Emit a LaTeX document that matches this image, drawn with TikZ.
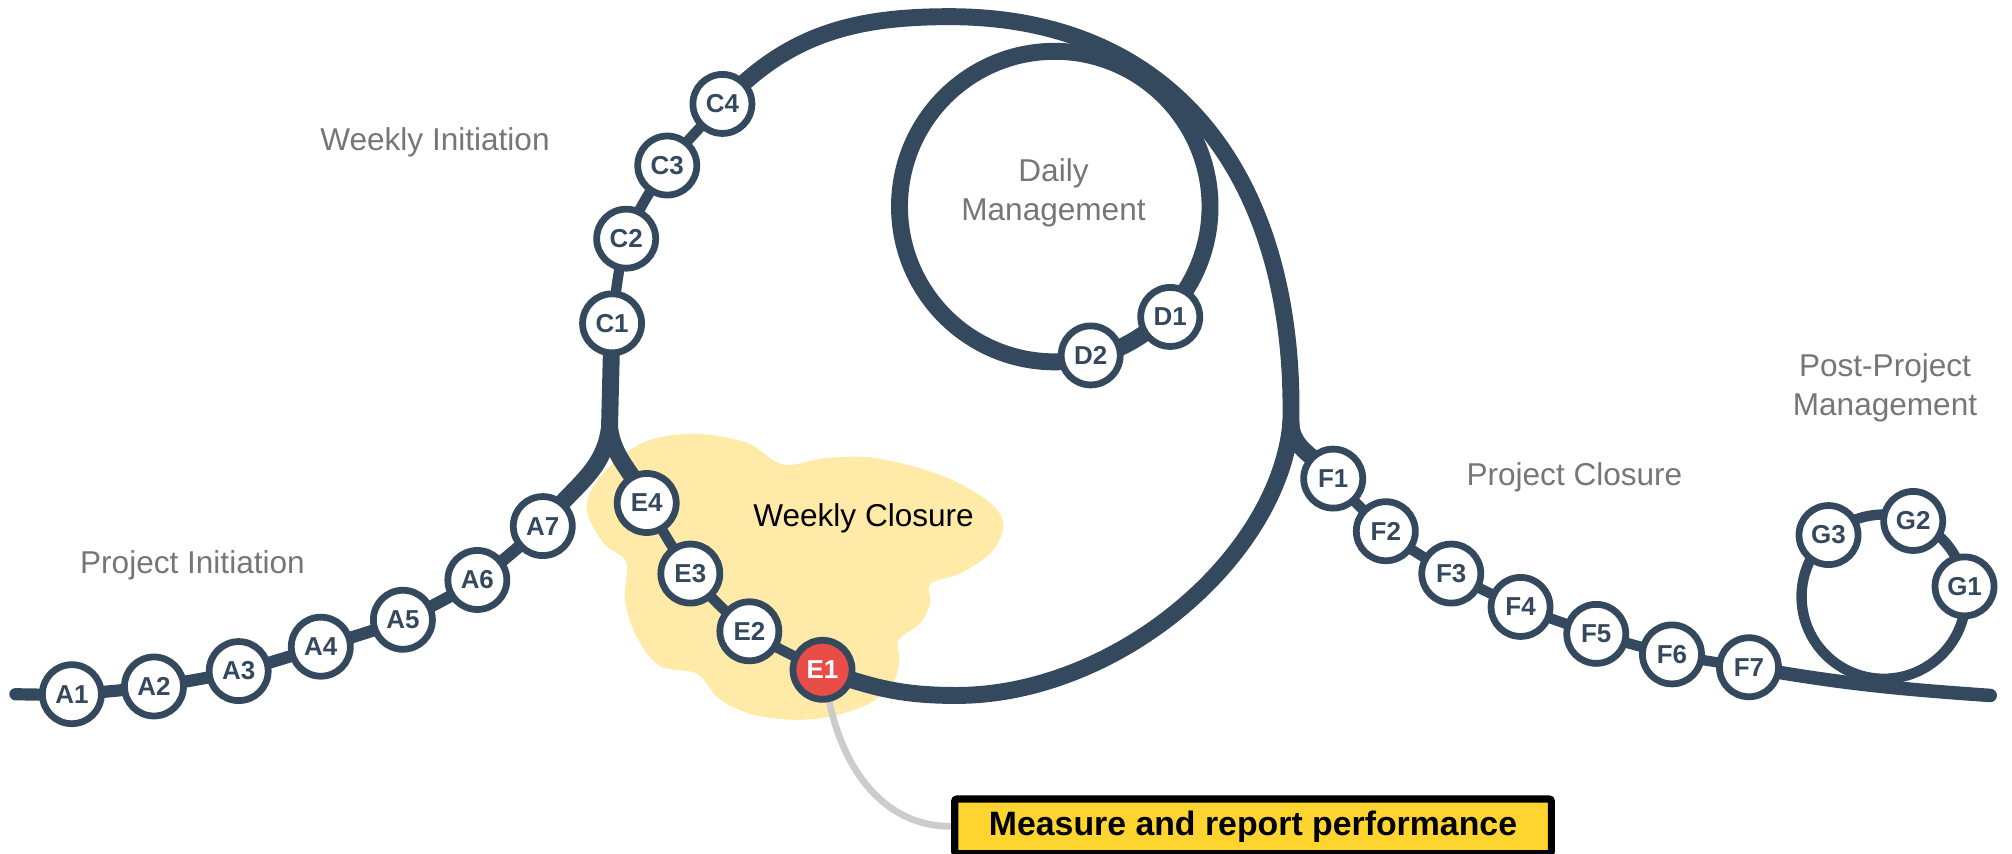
\documentclass[tikz,border=0pt]{standalone}
\usepackage{fontspec}
\setmainfont{Liberation Sans}
\usetikzlibrary{backgrounds}

\definecolor{navy}{RGB}{52,73,94}
\definecolor{alert}{RGB}{232,77,72}
\definecolor{cloudfill}{RGB}{255,235,167}
\definecolor{notefill}{RGB}{254,213,47}
\definecolor{phasegray}{RGB}{118,118,118}
\definecolor{leadgray}{RGB}{204,204,204}

\begin{document}
\begin{tikzpicture}[
		x=0.2mm, y=0.2mm,
		% Track styles
		track/.style={draw=navy, line width=7.5pt, line cap=round},
		chain/.style={draw=navy, line width=4.6pt, line cap=round},
		lead/.style={draw=leadgray, line width=3pt},
		% Station styles
		station/.style={circle, draw=navy, line width=3pt, fill=white, text=navy, minimum size=0.92cm, inner sep=0pt, font=\bfseries\fontsize{11.5}{12}\selectfont},
		hot/.style={station, fill=alert, text=white},
		% Label styles (base = baseline of the last line)
		phase/.style={anchor=base, align=center, text=phasegray, font=\fontsize{14}{17.3}\selectfont},
		note/.style={draw=black, line width=3.2pt, fill=notefill, rounded corners=1pt, minimum width=9.3cm, minimum height=0.85cm, inner sep=0pt, font=\bfseries\fontsize{15}{18}\selectfont}
		]
		\useasboundingbox (0,0) rectangle (1568,665);
		
		% --- JUNCTIONS OF THE TRACK ---
		\coordinate (start) at (12,124);
		\coordinate (weekfork) at (475,332);
		\coordinate (crest) at (740,652);
		\coordinate (closefork) at (1006,335);
		\coordinate (trough) at (745,123);
		\coordinate (finish) at (1551,123);
		\coordinate (dailyhub) at (822,504);
		\coordinate (posthub) at (1468,200);
		
		% --- STATIONS ---
		\node[station] (A1) at (56,124) {A1};
		\node[station] (A2) at (120,130) {A2};
		\node[station] (A3) at (186,142) {A3};
		\node[station] (A4) at (250,161) {A4};
		\node[station] (A5) at (314,182) {A5};
		\node[station] (A6) at (372,213) {A6};
		\node[station] (A7) at (423,255) {A7};
		
		\node[station] (C1) at (477,413) {C1};
		\node[station] (C2) at (488,479) {C2};
		\node[station] (C3) at (520,536) {C3};
		\node[station] (C4) at (563,584) {C4};
		
		\node[station] (D1) at (912,418) {D1};
		\node[station] (D2) at (850,388) {D2};
		
		\node[station] (E4) at (504,273) {E4};
		\node[station] (E3) at (538,218) {E3};
		\node[station] (E2) at (584,173) {E2};
		\node[hot] (E1) at (641,143) {E1};
		
		\node[station] (F1) at (1039,292) {F1};
		\node[station] (F2) at (1080,251) {F2};
		\node[station] (F3) at (1131,218) {F3};
		\node[station] (F4) at (1185,192) {F4};
		\node[station] (F5) at (1244,171) {F5};
		\node[station] (F6) at (1303,155) {F6};
		\node[station] (F7) at (1363,145) {F7};
		
		\node[station] (G1) at (1531,208) {G1};
		\node[station] (G2) at (1491,259) {G2};
		\node[station] (G3) at (1425,248) {G3};
		
		% --- PHASE LABELS ---
		\node[phase] (wkinit) at (339,548) {Weekly Initiation};
		\node[phase] (prjinit) at (150,218) {Project Initiation};
		\node[phase] (daily) at (821,493) {Daily\\Management};
		\node[phase, text=black] (wkclose) at (673,255) {Weekly Closure};
		\node[phase] (prjclose) at (1227,287) {Project Closure};
		\node[phase] (post) at (1469,341) {Post-Project\\Management};
		
		\node[note] (perf) at (976.5,21) {Measure and report performance};
		
		\begin{scope}[on background layer]
			% Weekly closure cloud
			\fill[cloudfill] plot[smooth cycle, tension=0.55] coordinates {
				(457,270) (470,296) (501,320) (540,327) (582,320) (610,303)
				(644,308) (683,308) (735,294) (772,273) (782,255) (772,234)
				(748,218) (725,210) (725,195) (717,179) (700,166) (701,151)
				(696,133) (678,117) (649,107) (621,104) (587,108) (561,120)
				(543,140) (514,146) (496,169) (487,197) (488,227) (470,242)};
			\draw[lead] (E1) to[out=-78, in=180] (perf.west);
			
			% Project initiation run
			\draw[chain, line width=5.4pt] plot[smooth] coordinates {(start) (A1.center) (A2.center) (A3.center) (A4.center) (A5.center) (A6.center) (A7.center)};
			\draw[track] (A7.center) to[out=55, in=-97] (weekfork);
			\draw[track] (E4.center) to[out=112, in=-83] (weekfork);
			\draw[track, line cap=butt] (weekfork) -- (C1.center);
			
			% Weekly initiation and the big weekly loop
			\draw[chain] plot[smooth] coordinates {(C1.center) (C2.center) (C3.center) (C4.center)};
			\draw[track] (C4.center) to[out=47, in=180] (crest)
				.. controls (920,652) and (1010,520) .. (closefork);
			\draw[track] (closefork) .. controls (996,230) and (870,123) .. (trough)
				to[out=180, in=-20] (E1.center);
			\draw[chain] plot[smooth] coordinates {(E1.center) (E2.center) (E3.center) (E4.center)};
			
			% Daily loop
			\draw[track] (dailyhub) circle[radius=121];
			
			% Project closure run and post-project loop
			\draw[track] (closefork) to[out=-87, in=125] (F1.center);
			\draw[chain] plot[smooth] coordinates {(F1.center) (F2.center) (F3.center) (F4.center) (F5.center) (F6.center) (F7.center)};
			\draw[chain, line width=6pt] (F7.center) to[out=-10, in=176] (finish);
			\draw[chain] (posthub) circle[radius=64];
		\end{scope}
		
	\end{tikzpicture}
\end{document}
